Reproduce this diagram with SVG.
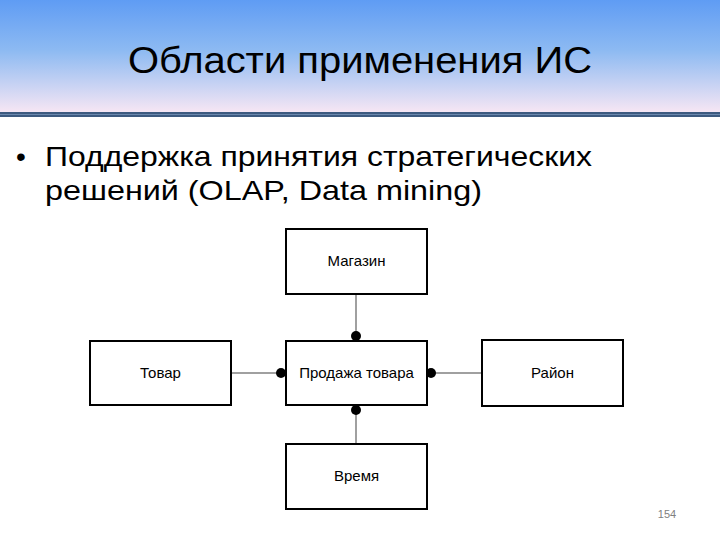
<svg xmlns="http://www.w3.org/2000/svg" width="720" height="540" viewBox="0 0 720 540">
<defs>
<linearGradient id="hdr" x1="0" y1="0" x2="0" y2="1">
<stop offset="0" stop-color="#5f9cf4"/>
<stop offset="0.45" stop-color="#8dbaf2"/>
<stop offset="1" stop-color="#f6e6f4"/>
</linearGradient>
<style>
.box{fill:#ffffff;stroke:#000000;stroke-width:2}
.lbl{font-family:"Liberation Sans",Arial,sans-serif;font-size:15px;fill:#000;text-anchor:middle}
.con{stroke:#808080;stroke-width:1.5;fill:none}
.dot{fill:#000}
</style>
</defs>
<rect width="720" height="540" fill="#ffffff"/>
<rect x="0" y="0" width="720" height="112" fill="url(#hdr)"/>
<rect x="0" y="112" width="720" height="5" fill="#3d5a80"/>
<rect x="0" y="114" width="720" height="1" fill="#6a87ad"/>
<text x="360" y="73" font-family="'Liberation Sans',Arial,sans-serif" font-size="37" text-anchor="middle" fill="#000" textLength="464" lengthAdjust="spacingAndGlyphs">Области применения ИС</text>
<g id="bullet" font-family="'Liberation Sans',Arial,sans-serif" font-size="28" fill="#000">
<text x="16" y="166">•</text>
<text x="45" y="166" textLength="547" lengthAdjust="spacingAndGlyphs">Поддержка принятия стратегических</text>
<text x="45" y="200" textLength="437" lengthAdjust="spacingAndGlyphs">решений (OLAP, Data mining)</text>
</g>
<g id="connectors">
<line class="con" x1="356" y1="295" x2="356" y2="336"/>
<circle class="dot" cx="356" cy="336" r="5"/>
<line class="con" x1="231" y1="373" x2="281" y2="373"/>
<circle class="dot" cx="281" cy="373" r="5"/>
<line class="con" x1="431" y1="373" x2="482" y2="373"/>
<circle class="dot" cx="431" cy="373" r="5"/>
<line class="con" x1="356" y1="410" x2="356" y2="444"/>
<circle class="dot" cx="356" cy="410" r="5"/>
</g>
<g id="magazin"><rect class="box" x="286" y="229" width="141" height="65"/><text class="lbl" x="356.5" y="266">Магазин</text></g>
<g id="tovar"><rect class="box" x="90" y="341" width="141" height="64"/><text class="lbl" x="160.5" y="378">Товар</text></g>
<g id="prodazha"><rect class="box" x="286" y="341" width="141" height="64"/><text class="lbl" x="356.5" y="378">Продажа товара</text></g>
<g id="rayon"><rect class="box" x="482" y="340" width="141" height="66"/><text class="lbl" x="552.5" y="378">Район</text></g>
<g id="vremya"><rect class="box" x="286" y="444" width="141" height="65"/><text class="lbl" x="356.5" y="481">Время</text></g>
<text x="667" y="518" font-family="'Liberation Sans',Arial,sans-serif" font-size="11" fill="#808080" text-anchor="middle">154</text>
</svg>
